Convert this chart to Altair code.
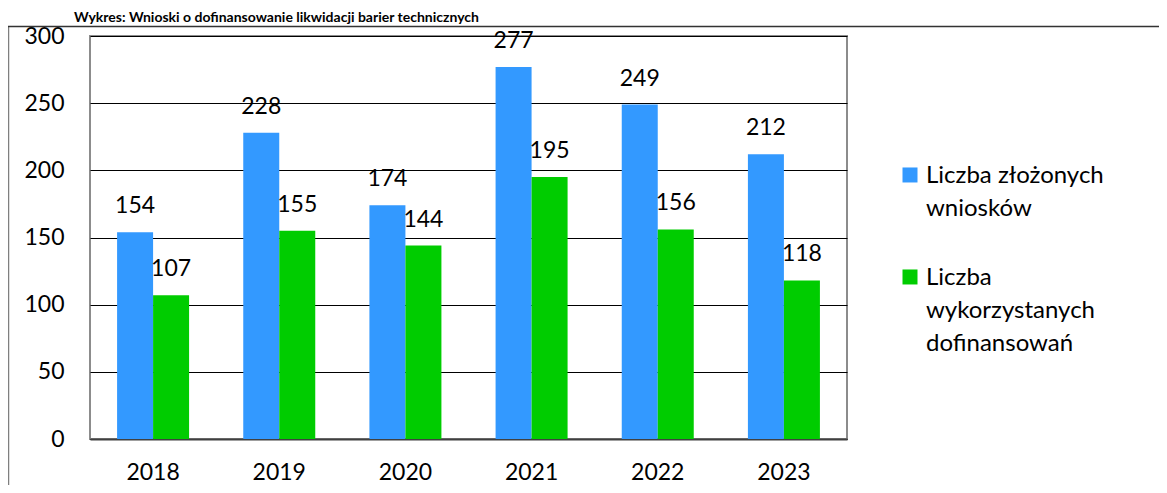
import altair as alt
import pandas as pd

years = ["2018", "2019", "2020", "2021", "2022", "2023"]
submitted = [154, 228, 174, 277, 249, 212]
used = [107, 155, 144, 195, 156, 118]
series_names = ["Liczba złożonych wniosków", "Liczba wykorzystanych dofinansowań"]
series_colors = ["#3399FF", "#00CC00"]
y_ticks = [0, 50, 100, 150, 200, 250, 300]
title_text = "Wykres: Wnioski o dofinansowanie likwidacji barier technicznych"

rows = []
for i, yr in enumerate(years):
    rows.append({"year": yr, "series": series_names[0], "value": submitted[i]})
    rows.append({"year": yr, "series": series_names[1], "value": used[i]})
df = pd.DataFrame(rows)

FONT = "Lato"
FS = 23

x_enc = alt.X("year:N", sort=years, title=None,
              scale=alt.Scale(paddingInner=0.4293, paddingOuter=0.2147),
              axis=alt.Axis(labelAngle=0, ticks=False, tickSize=0, labelPadding=22,
                            labelFontSize=FS, labelFont=FONT, labelColor="#000000",
                            domainColor="#404040", domainWidth=2))
xoff_enc = alt.XOffset("series:N", sort=series_names,
                       scale=alt.Scale(paddingInner=0, paddingOuter=0))
y_enc = alt.Y("value:Q", title=None,
              scale=alt.Scale(domain=[0, 300], nice=False),
              axis=alt.Axis(values=y_ticks, ticks=False, tickSize=0, labelPadding=26,
                            labelFontSize=FS, labelFont=FONT, labelColor="#000000",
                            domain=False, grid=True, gridColor="#000000", gridWidth=1))

legend = alt.Legend(
    title=None, orient="none", legendX=808, legendY=135,
    symbolType="M-1,-2.07H1V-0.07H-1Z", symbolSize=225, symbolStrokeWidth=0,
    labelFont=FONT, labelFontSize=24, labelColor="#000000", labelBaseline="alphabetic",
    labelOffset=4, labelLimit=300, rowPadding=45, padding=0,
    labelExpr="datum.label == 'Liczba złożonych wniosków' ? ['Liczba złożonych', 'wniosków'] : ['Liczba', 'wykorzystanych', 'dofinansowań']",
)

base = alt.Chart(df).encode(x=x_enc, xOffset=xoff_enc)

bars = base.mark_bar(size=36).encode(
    y=y_enc,
    color=alt.Color("series:N", sort=series_names,
                    scale=alt.Scale(domain=series_names, range=series_colors),
                    legend=legend),
)

labels = base.mark_text(baseline="alphabetic", align="center", dy=-19,
                        font=FONT, fontSize=FS, color="#000000").encode(
    y=alt.Y("value:Q"),
    text=alt.Text("value:Q"),
)

one = pd.DataFrame({"k": [0]})
left_frame = alt.Chart(one).mark_rule(color="#7f7f7f", strokeWidth=1.5).encode(
    x=alt.value(-81.5), y=alt.value(-9.5), y2=alt.value(470))
top_frame = alt.Chart(one).mark_rule(color="#333333", strokeWidth=1.5).encode(
    x=alt.value(-82), x2=alt.value(1069), y=alt.value(-9.5))
title_mark = alt.Chart(pd.DataFrame({"t": [title_text]})).mark_text(
    align="left", baseline="alphabetic", font=FONT, fontSize=14, fontWeight="bold",
    color="#000000").encode(x=alt.value(-16), y=alt.value(-14), text="t:N")

chart = alt.layer(bars, labels, left_frame, top_frame, title_mark).properties(
    width=757, height=403,
    autosize=alt.AutoSizeParams(type="none"),
    padding={"left": 82, "top": 28, "right": 312, "bottom": 46},
).configure(
    font=FONT,
    style={"guide-label": {"lineHeight": 33}},
).configure_view(stroke="#8c8c8c", strokeWidth=2)

chart.save("out.html", embed_options={"renderer": "svg", "actions": False})
